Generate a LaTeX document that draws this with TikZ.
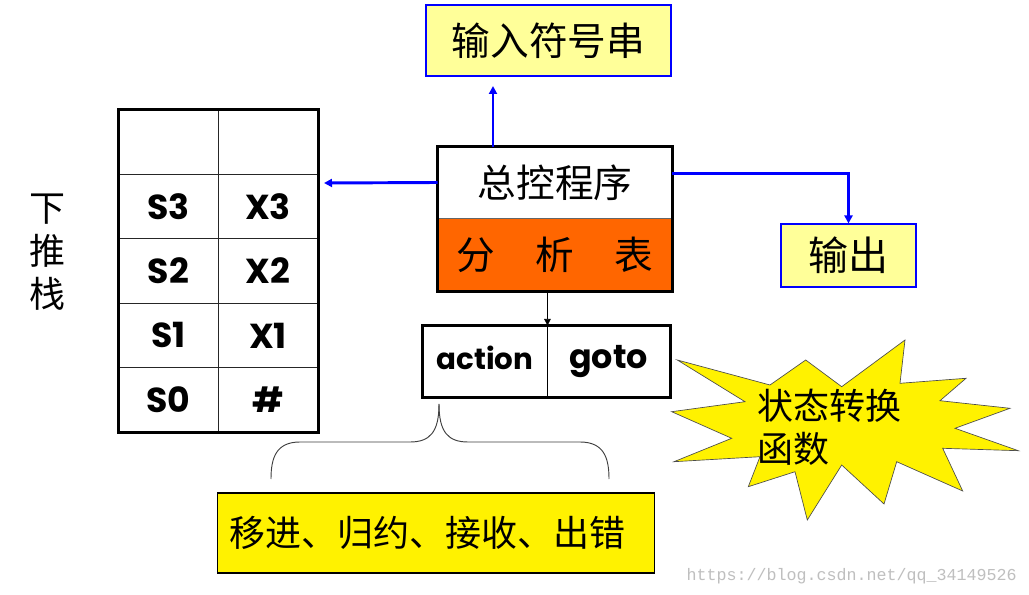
\documentclass[tikz,border=0pt]{standalone}
\usepackage{fontspec}
\newfontfamily\cjk{Noto Sans CJK SC}
\newfontfamily\comic{Poppins}
\newfontfamily\wm{Liberation Mono}
\usetikzlibrary{arrows.meta}
\definecolor{lightyel}{RGB}{255,255,153}
\definecolor{orng}{RGB}{255,102,0}
\definecolor{bluearr}{RGB}{0,0,255}
\begin{document}
\begin{tikzpicture}[x=0.75pt,y=-0.75pt,
  cell/.style={draw=black!85,line width=0.6pt,minimum width=74.6pt,minimum height=48.3pt,inner sep=0pt,font=\comic\bfseries\fontsize{26}{26}\selectfont},
  cjkbig/.style={font=\cjk\fontsize{29}{34}\selectfont},
  infobox/.style={draw=bluearr,line width=0.8pt,fill=lightyel,inner sep=0pt},
  barrow/.style={draw=bluearr,line width=2.2pt,-{Triangle[length=6pt,width=6pt]}},
  karrow/.style={draw=black,line width=0.6pt,-{Triangle[length=5pt,width=5pt]}},
  thickframe/.style={draw=black,line width=2.3pt},
  agcell/.style={draw=black,line width=0.7pt,minimum height=53.25pt,inner sep=0pt,font=\comic\bfseries\fontsize{22}{22}\selectfont}
]
\useasboundingbox (0,0) rectangle (1029,595);
\fill[white] (0,0) rectangle (1029,595);

% stack
\node[cell] (e1) at (168.5,142.2) {};
\node[cell] (e2) at (268,142.2) {};
\node[cell] (s3) at (168.5,206.6) {S3};
\node[cell] (x3) at (268,206.6) {X3};
\node[cell] (s2) at (168.5,271) {S2};
\node[cell] (x2) at (268,271) {X2};
\node[cell] (s1) at (168.5,335.4) {S1};
\node[cell] (x1) at (268,335.4) {X1};
\node[cell] (s0) at (168.5,399.8) {S0};
\node[cell] (hs) at (268,399.8) {\#};
\draw[thickframe] (e1.north west) rectangle (hs.south east);

\node[font=\cjk\fontsize{27}{32}\selectfont,align=center,inner sep=0pt] (stacklbl) at (48,252) {下\\推\\栈};

% input string
\node[infobox,minimum width=183.75pt,minimum height=53.25pt,cjkbig] (inbox) at (548.5,40.5) {输入符号串};

% control program + table
\node[fill=white,minimum width=175.5pt,minimum height=53.25pt,inner sep=0pt,cjkbig] (ctrl) at (555,182.5) {总控程序};
\node[fill=orng,draw=black!60,line width=0.6pt,minimum width=175.5pt,minimum height=54.75pt,inner sep=0pt,cjkbig] (tbl) at (555,254.5) {分\hspace{1.05em}析\hspace{1.05em}表};
\draw[thickframe] (ctrl.north west) rectangle (tbl.south east);

% output
\node[infobox,minimum width=101.25pt,minimum height=47.25pt,font=\cjk\fontsize{30}{34}\selectfont] (outbox) at (848.5,255.5) {输出};

% action / goto
\node[agcell,minimum width=93pt] (act) at (485,361.5) {\raisebox{5pt}{action}};
\node[agcell,minimum width=92.25pt,font=\comic\bfseries\fontsize{25}{25}\selectfont] (goto) at (608.5,361.5) {\raisebox{1pt}{goto}};
\draw[draw=black,line width=2pt] (act.north west) rectangle (goto.south east);

% connectors
\coordinate (upend) at (493,86);
\coordinate (leftend) at (324,183);
\draw[barrow] (ctrl.north -| upend) -- (upend);
\draw[barrow] (ctrl.west) -- (leftend);
\draw[barrow] ([yshift=6.4pt]ctrl.east) -| (outbox.north);
\draw[karrow] (tbl.south -| act.east) -- (act.north east);

% brace
\coordinate (bapex) at (439,404);
\draw[black!75,line width=0.7pt] (bapex) .. controls (439,432) and (430,442) .. (410,442) -- (300,442) .. controls (276,442) and (271,458) .. (271,479);
\draw[black!75,line width=0.7pt] (bapex) .. controls (439,432) and (448,442) .. (468,442) -- (580,442) .. controls (604,442) and (609,458) .. (609,479);

% actions box
\node[draw=black,line width=0.8pt,fill=yellow,anchor=west,minimum height=60pt,text width=309.75pt,inner xsep=9pt,inner ysep=0pt,align=left,font=\cjk\fontsize{27}{32}\selectfont] (acts) at (217,533) {移进、归约、接收、出错};

% starburst
\fill[yellow,draw=black!70,line width=0.5pt]
 (677.3,360) -- (770,385) -- (805.7,360) -- (841.7,386.7) -- (905,340) -- (900,383.3)
 -- (966,378.3) -- (940,400.7) -- (1010,408.3) -- (955,428.3) -- (1018.3,450.7)
 -- (942.7,448.3) -- (962.7,491) -- (896.7,461.7) -- (884,504) -- (841.7,465)
 -- (807.3,520) -- (795,471.7) -- (748.3,486.7) -- (760,456.7) -- (674,461.7)
 -- (731.7,438.3) -- (671.7,411.7) -- (745,401.7) -- cycle;
\node[anchor=west,align=left,inner sep=0pt,font=\cjk\fontsize{27}{32}\selectfont] (burst) at (757,427) {状态转换\\函数};

% watermark
\node[anchor=east,inner sep=0pt,text=black!25,font=\wm\fontsize{12.5}{14}\selectfont] (wmark) at (1017,576) {https://blog.csdn.net/qq\_34149526};
\end{tikzpicture}
\end{document}
